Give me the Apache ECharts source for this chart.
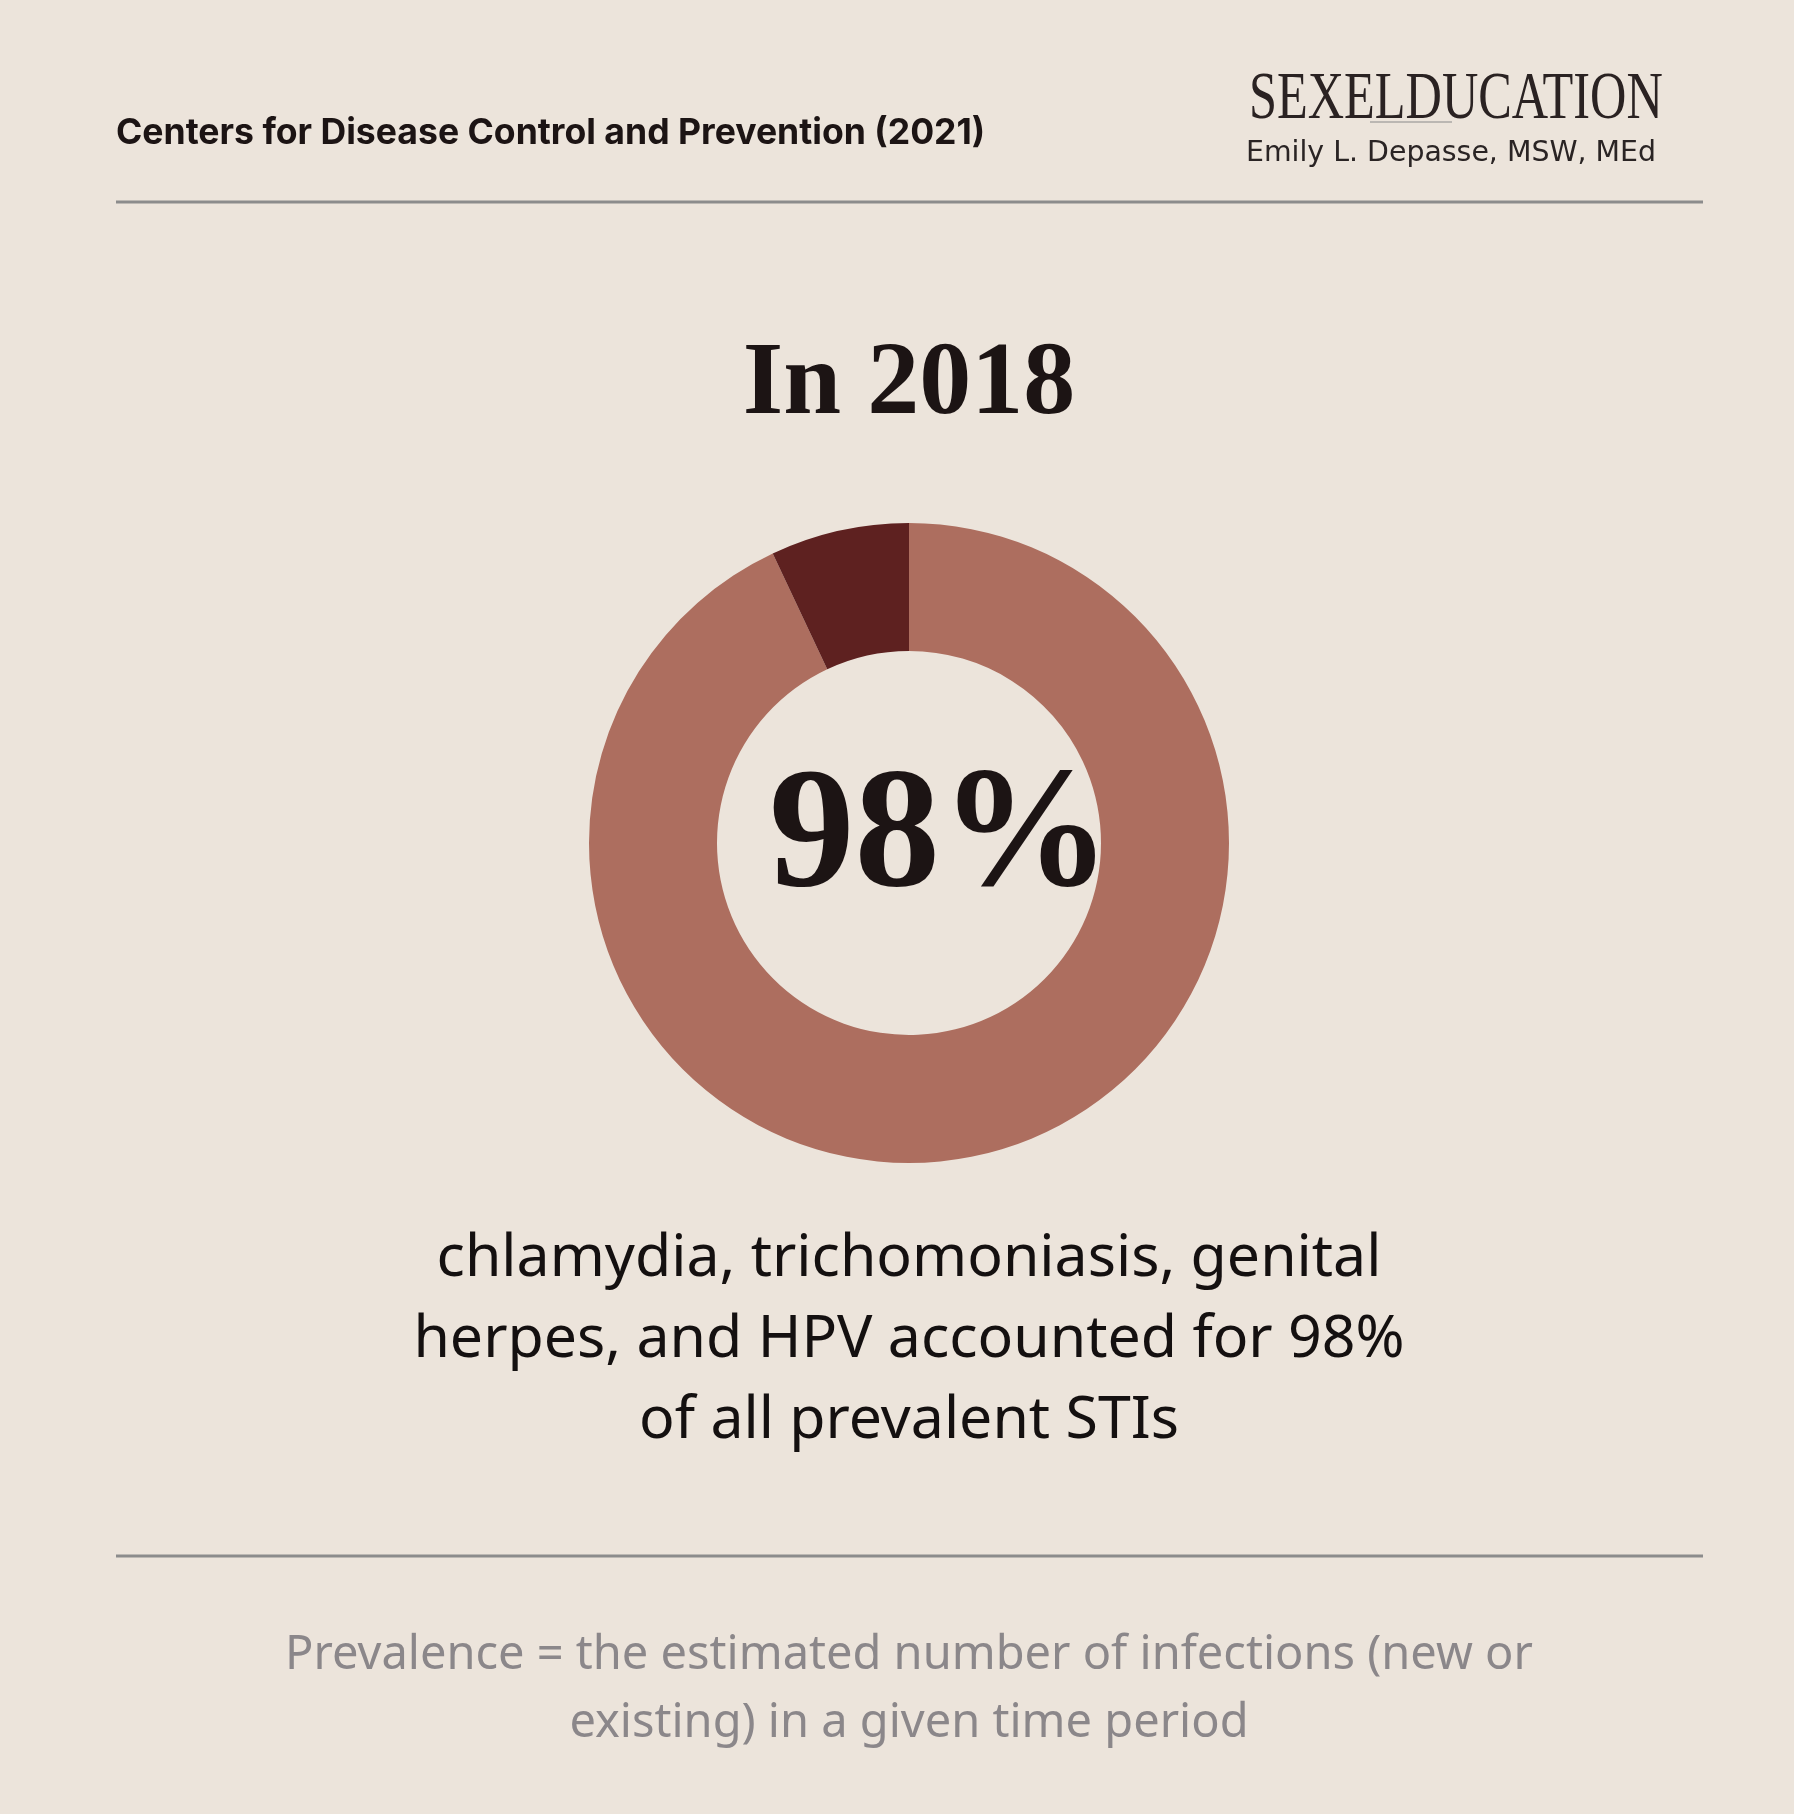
<!DOCTYPE html>
<html>
<head>
<meta charset="utf-8">
<script src="https://cdn.jsdelivr.net/npm/echarts@6/dist/echarts.min.js"></script>
<style>
html,body{margin:0;padding:0;background:#ECE4DB;}
#chart{width:1794px;height:1814px;}
</style>
</head>
<body>
<div id="chart"></div>
<script>
const categories = ['chlamydia, trichomoniasis, genital herpes, and HPV', 'Other STIs'];
const values = [93, 7];
const colors = ['#AD6E5F', '#5E2120'];
const sourceText = 'Centers for Disease Control and Prevention (2021)';
const logoText = 'SEXELDUCATION';
const authorText = 'Emily L. Depasse, MSW, MEd';
const titleText = 'In 2018';
const centerText = '98%';
const bodyLines = ['chlamydia, trichomoniasis, genital', 'herpes, and HPV accounted for 98%', 'of all prevalent STIs'];
const footLines = ['Prevalence = the estimated number of infections (new or', 'existing) in a given time period'];

const chart = echarts.init(document.getElementById('chart'), null, {renderer: 'canvas'});

const graphics = [
  {type: 'text', x: 116, y: 133, style: {text: sourceText, font: '700 35.6px Inter', fill: '#1c1414', textVerticalAlign: 'middle'}},
  {type: 'text', x: 1249, y: 100, scaleX: 0.74, style: {text: logoText, font: '300 68px "Liberation Serif"', fill: '#2a2222', textVerticalAlign: 'middle'}},
  {type: 'line', shape: {x1: 1370, y1: 122, x2: 1452, y2: 122}, style: {stroke: '#8a8a8a', lineWidth: 1}},
  {type: 'text', x: 1246, y: 154, style: {text: authorText, font: '400 28.4px "DejaVu Sans"', fill: '#2a2424', textVerticalAlign: 'middle'}},
  {type: 'line', shape: {x1: 116, y1: 202, x2: 1703, y2: 202}, style: {stroke: '#8c8c8c', lineWidth: 3}},
  {type: 'text', x: 909, y: 386, style: {text: titleText, font: '700 104px "Liberation Serif"', fill: '#1c1414', textAlign: 'center', textVerticalAlign: 'middle'}},
  {type: 'text', x: 940, y: 841, style: {text: centerText, font: '700 171px "Liberation Serif"', fill: '#1c1414', textAlign: 'center', textVerticalAlign: 'middle'}},
  {type: 'line', shape: {x1: 116, y1: 1556, x2: 1703, y2: 1556}, style: {stroke: '#8c8c8c', lineWidth: 3}}
];
bodyLines.forEach(function (t, i) {
  graphics.push({type: 'text', x: 909, y: 1259 + i * 81, style: {text: t, font: '400 59px "Noto Sans"', fill: '#141010', textAlign: 'center', textVerticalAlign: 'middle'}});
});
footLines.forEach(function (t, i) {
  graphics.push({type: 'text', x: 909, y: 1656 + i * 68, style: {text: t, font: '400 47px "Noto Sans"', fill: '#8b878a', textAlign: 'center', textVerticalAlign: 'middle'}});
});

chart.setOption({
  backgroundColor: '#ECE4DB',
  animation: false,
  series: [{
    type: 'pie',
    center: [909, 843],
    radius: [192, 320],
    startAngle: 90,
    clockwise: true,
    silent: true,
    label: {show: false},
    labelLine: {show: false},
    itemStyle: {borderWidth: 0},
    data: categories.map(function (c, i) { return {name: c, value: values[i], itemStyle: {color: colors[i]}}; })
  }],
  graphic: graphics
});
</script>
</body>
</html>
